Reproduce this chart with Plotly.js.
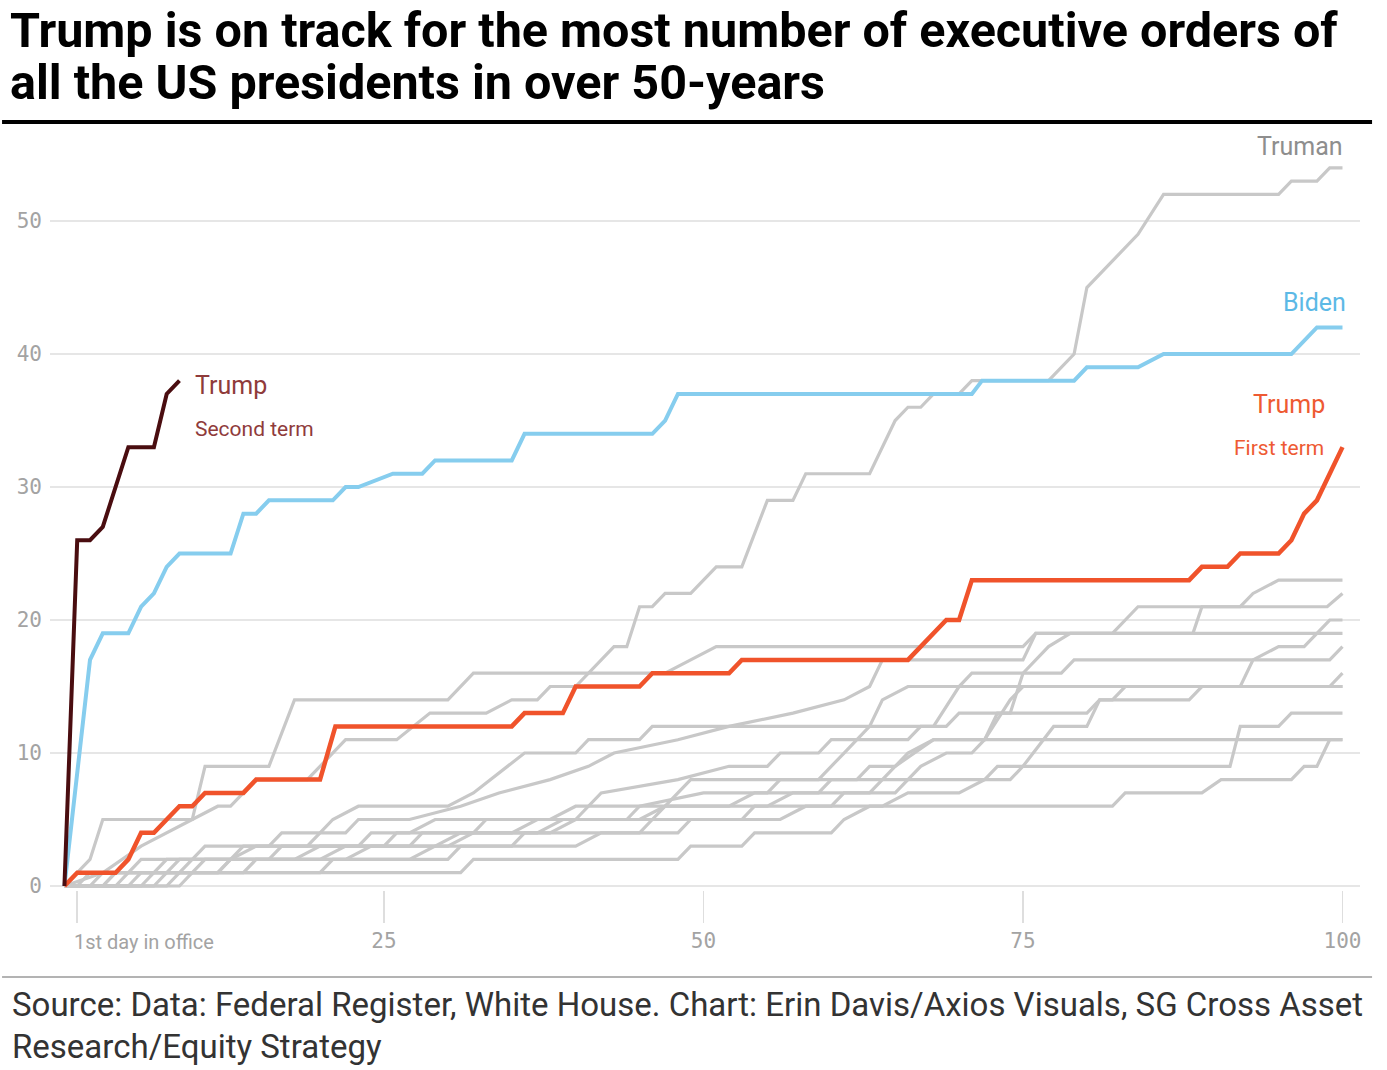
<!DOCTYPE html>
<html>
<head>
<meta charset="utf-8">
<script src="https://cdn.plot.ly/plotly-3.0.1.min.js"></script>
<style>html,body{margin:0;padding:0;background:#fff;}#chart{width:1387px;height:1070px;}</style>
</head>
<body>
<div id="chart"></div>
<script>
// ---- Data: cumulative executive orders by day in office ----
const trumpSecond = [[0,0],[1,26],[2,26],[3,27],[5,33],[7,33],[8,37],[9,38]];
const biden = [[0,0],[2,17],[3,19],[5,19],[6,21],[7,22],[8,24],[9,25],[13,25],[14,28],[15,28],[16,29],[21,29],[22,30],[23,30],[25.7,31],[28,31],[29,32],[35,32],[36,34],[46,34],[47,35],[48,37],[71,37],[71.8,38],[79,38],[80,39],[84,39],[86,40],[96,40],[98,42],[100,42]];
const trumpFirst = [[0,0],[1,1],[4,1],[5,2],[6,4],[7,4],[9,6],[10,6],[11,7],[14,7],[15,8],[20,8],[21.2,12],[35,12],[36,13],[39,13],[40,15],[45,15],[46,16],[52,16],[53,17],[66,17],[69,20],[70,20],[71,23],[88,23],[89,24],[91,24],[92,25],[95,25],[96,26],[97,28],[98,29],[99,31],[100,33]];
const truman = [[0,0],[3,1],[6,3],[8,4],[10,5],[12,6],[13,6],[14,7],[15,8],[19,8],[20,9],[21,10],[22,11],[26,11],[28.6,13],[33,13],[35,14],[37,14],[38,15],[40,15],[43,18],[44,18],[45,21],[46,21],[47,22],[49,22],[51,24],[53,24],[55,29],[57,29],[58,31],[63,31],[64,33],[65,35],[66,36],[67,36],[68,37],[70,37],[71,38],[77,38],[79,40],[80,45],[84,49],[86,52],[95,52],[96,53],[98,53],[99,54],[100,54]];
const presB = [[0,0],[2,2],[3,5],[10,5],[11,9],[16,9],[18,14],[30,14],[32,16],[47,16],[49,17],[51,18],[75,18],[76,19],[82,19],[84,21],[98.8,21],[100,22]];
const presC = [[0,0],[4,0],[5,1],[9,1],[11,3],[16,3],[17,4],[22,4],[23,5],[27,5],[31,6],[34,7],[38,8],[41,9],[43,10],[48,11],[52,12],[57,13],[61,14],[63,15],[64,17],[75,17],[76,19],[88.3,19],[89,21],[92,21],[93,22],[95,23],[100,23]];
const presD = [[0,0],[3,0],[4,1],[8,1],[9,2],[13,2],[14,3],[19,3],[20,4],[21,5],[23,6],[30,6],[32,7],[36,10],[40,10],[41,11],[45,11],[46,12],[69,12],[70,13],[74,13],[75,16],[77,18],[78.7,19],[100,19]];
const presE = [[0,0],[5,0],[6,1],[12,1],[13,2],[20,2],[22,3],[27,3],[28,4],[35,4],[37,5],[40,5],[42,7],[48,8],[52,9],[55,9],[56,10],[59,10],[60,11],[66,11],[67,12],[68,12],[70,15],[71,16],[78,16],[79,17],[99,17],[100,18]];
const presF = [[0,0],[2,0],[3,1],[7,1],[8,2],[16,2],[17,3],[23,3],[24,4],[27,4],[29,5],[38,5],[40,6],[47,6],[49,8],[59,8],[61,10],[62,11],[63,12],[64,14],[66,15],[92,15],[93,17],[95,18],[97,18],[99,20],[100,20]];
const presG = [[0,0],[6,0],[7,1],[10,1],[11,2],[18,2],[20,3],[25,3],[26,4],[32,4],[33,5],[44,5],[45,6],[50,7],[55,7],[56,8],[62,8],[63,9],[65,9],[68,11],[72,11],[74,14],[75,15],[99,15],[100,16]];
const presH = [[0,0],[8,0],[9,1],[14,1],[15,2],[22,2],[24,3],[30,3],[32,4],[38,4],[40,5],[46,5],[47,6],[52,6],[54,7],[59,7],[60,8],[64,8],[66,10],[68,11],[72,11],[73,13],[80,13],[81,14],[88,14],[89,15],[100,15]];
const presI = [[0,0],[1,0],[2,1],[5,1],[6,2],[13,2],[15,3],[29,3],[31,4],[37,4],[39,5],[45,5],[47,6],[55,6],[57,7],[63,7],[64,8],[74,8],[75,9],[77.4,12],[80,12],[81,14],[82,14],[83,15],[100,15]];
const presJ = [[0,0],[3,0],[4,1],[12,1],[13,2],[27,2],[29,3],[40,3],[42,4],[48,4],[49,5],[56,5],[58,6],[64,6],[66,7],[70,7],[72,8],[73,9],[91.2,9],[92,12],[95,12],[96,13],[100,13]];
const presK = [[0,0],[7,0],[8,1],[20,1],[21,2],[30,2],[31,3],[35,3],[36,4],[45,4],[46,5],[53,5],[54,6],[60,6],[61,7],[65,7],[67,9],[69,10],[71,10],[72,11],[100,11]];
const presL = [[0,0],[9,0],[10,1],[31,1],[32,2],[48,2],[49,3],[53,3],[54,4],[60,4],[61,5],[63,6],[82,6],[83,7],[89,7],[90.5,8],[96,8],[97,9],[98,9],[99,11],[100,11]];

const xTickVals = [1, 25, 50, 75, 100];
const xTickText = ['', '25', '50', '75', '100'];
const yTickVals = [0, 10, 20, 30, 40, 50];
const yTickText = ['0', '10', '20', '30', '40', '50'];

const titleLines = ['Trump is on track for the most number of executive orders of', 'all the US presidents in over 50-years'];
const sourceLines = ['Source: Data: Federal Register, White House. Chart: Erin Davis/Axios Visuals, SG Cross Asset', 'Research/Equity Strategy'];

// ---- Build traces ----
const GRAY = '#c8c8c8';
function line(pts, color, width, name) {
  return {
    type: 'scatter', mode: 'lines', name: name,
    x: pts.map(p => p[0]), y: pts.map(p => p[1]),
    line: {color: color, width: width, shape: 'linear'},
    hoverinfo: 'skip', showlegend: false
  };
}
const grays = [presL, presK, presJ, presI, presH, presG, presF, presE, presD, presC, presB, truman];
const traces = grays.map((g, i) => line(g, GRAY, 3.2, 'other' + i));
traces.push(line(biden, '#86cdee', 4, 'Biden'));
traces.push(line(trumpFirst, '#f0532b', 4.5, 'Trump first term'));
traces.push(line(trumpSecond, '#4a0d10', 4, 'Trump second term'));

const monoFont = {family: 'DejaVu Sans Mono', size: 21, color: '#a3a3a3'};
const labelFam = 'Roboto, sans-serif';

function note(x, y, text, xanchor, size, color, xref, yref, fam, weight) {
  return {xref: xref || 'x', yref: yref || 'y', x: x, y: y, xanchor: xanchor, yanchor: 'middle',
          showarrow: false, text: text, align: 'left',
          font: {family: fam || labelFam, size: size, color: color, weight: weight || 400}};
}

const layout = {
  width: 1387, height: 1070,
  margin: {l: 50, r: 27, t: 135, b: 180},
  paper_bgcolor: '#ffffff', plot_bgcolor: '#ffffff',
  xaxis: {
    range: [-1.13, 101.37], showgrid: false, zeroline: false, showline: false,
    tickmode: 'array', tickvals: xTickVals, ticktext: xTickText,
    ticks: 'outside', ticklen: 32, tickwidth: 1.5, tickcolor: '#dedede',
    tickfont: monoFont, fixedrange: true
  },
  yaxis: {
    range: [-0.3, 56.47], showgrid: true, gridcolor: '#e6e6e6', gridwidth: 1.5,
    zeroline: false, showline: false,
    tickmode: 'array', tickvals: yTickVals, ticktext: yTickText,
    ticks: '', tickfont: monoFont, ticklabelstandoff: 7, fixedrange: true
  },
  shapes: [
    {type: 'line', xref: 'paper', yref: 'paper', x0: -0.0366, x1: 1.0092, y0: 1.0172, y1: 1.0172,
     line: {color: '#000', width: 4}},
    {type: 'line', xref: 'paper', yref: 'paper', x0: -0.0366, x1: 1.0092, y0: -0.1152, y1: -0.1152,
     line: {color: '#9a9a9a', width: 1.5}}
  ],
  annotations: [
    note(-0.032, 1.139, titleLines[0], 'left', 48.5, '#000', 'paper', 'paper', 'Roboto, sans-serif', 700),
    note(-0.032, 1.0689, titleLines[1], 'left', 48.5, '#000', 'paper', 'paper', 'Roboto, sans-serif', 700),
    note(0.6, -0.0689, '1st day in office', 'left', 20, '#a3a3a3', 'x', 'paper'),
    note(100.2, 55.6, 'Truman', 'right', 25, '#8e8e8e'),
    note(100.4, 43.9, 'Biden', 'right', 25, '#5cb9e6'),
    note(98.8, 36.2, 'Trump', 'right', 25, '#ee5a33'),
    note(98.7, 32.9, 'First term', 'right', 21, '#ee5a33'),
    note(10.05, 37.6, 'Trump', 'left', 25, '#8f3b3b'),
    note(10.05, 34.4, 'Second term', 'left', 21, '#8f3b3b'),
    note(-0.0305, -0.1523, sourceLines[0], 'left', 33, '#333333', 'paper', 'paper'),
    note(-0.0305, -0.2079, sourceLines[1], 'left', 33, '#333333', 'paper', 'paper')
  ]
};

Plotly.newPlot('chart', traces, layout, {displayModeBar: false, staticPlot: true});
</script>
</body>
</html>
